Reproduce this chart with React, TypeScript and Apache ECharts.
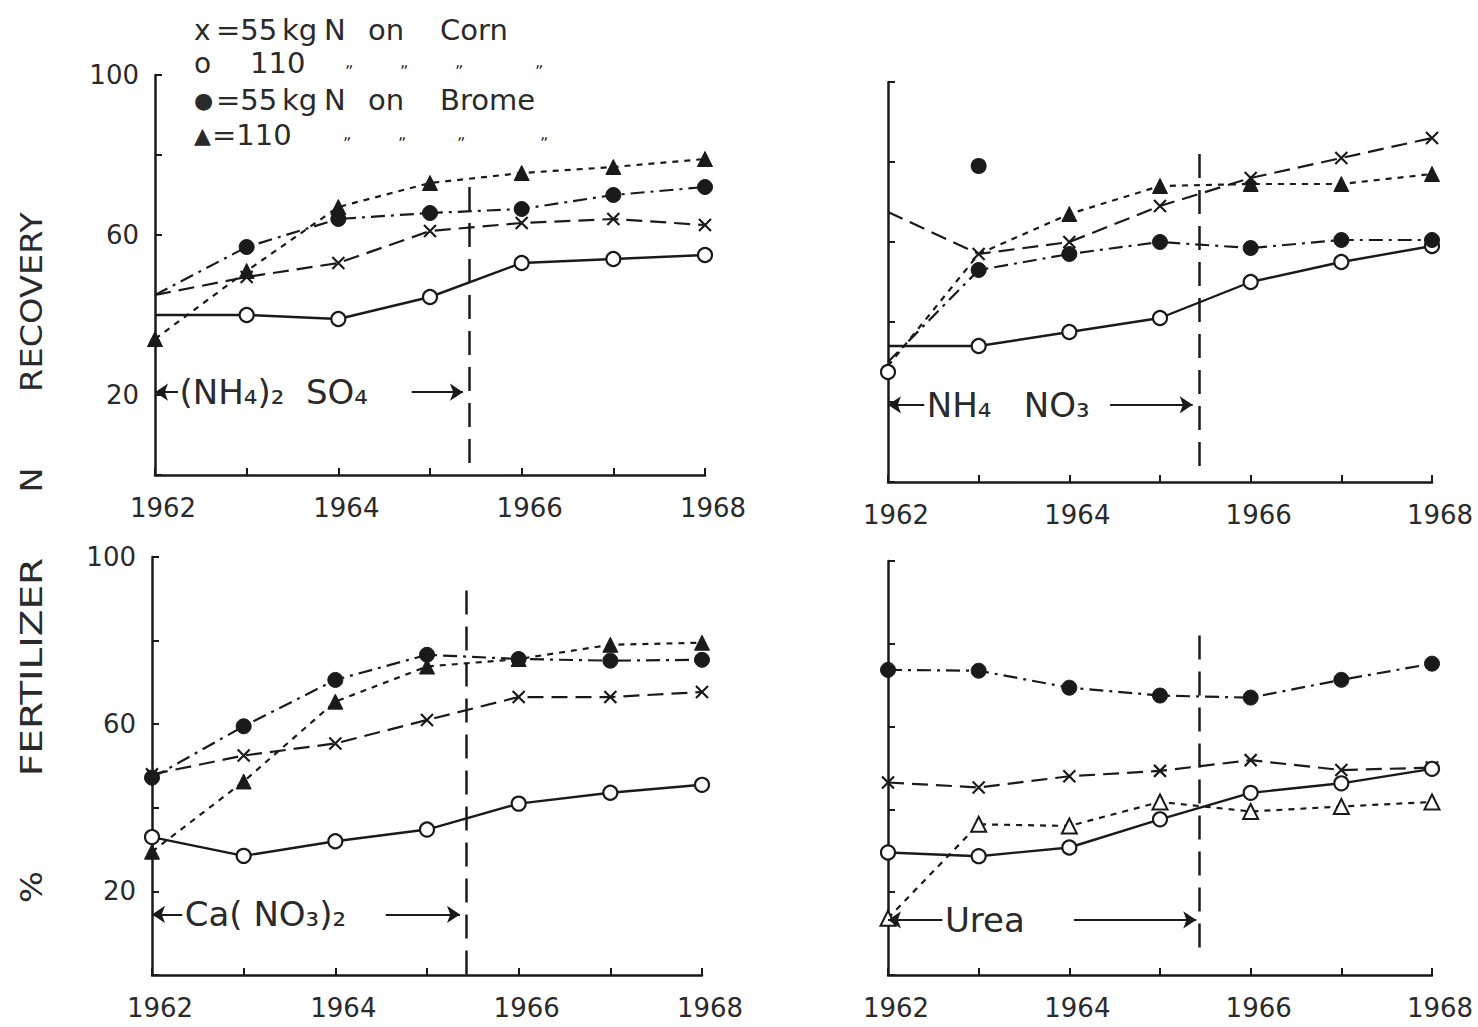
import React, { useEffect, useRef } from "react";
import * as echarts from "echarts";

const years = [1962, 1963, 1964, 1965, 1966, 1967, 1968];
const xLabelYears = [1962, 1964, 1966, 1968];
const yLabelValues = [20, 60, 100];

// Panel 1: (NH4)2 SO4
const sulfateCorn55 = [45, 49.5, 53, 61, 63, 64, 62.5];
const sulfateCorn110 = [40, 40, 39, 44.5, 53, 54, 55];
const sulfateBrome55 = [45, 57, 64, 65.5, 66.5, 70, 72];
const sulfateBrome110 = [34, 51, 67, 73, 75.5, 77, 79];

// Panel 2: NH4 NO3
const nitrateCorn55 = [67.5, 57, 60, 69, 76, 81, 86];
const nitrateCorn110 = [34, 34, 37.5, 41, 50, 55, 59];
const nitrateBrome55 = [30, 53, 57, 60, 58.5, 60.5, 60.5];
const nitrateBrome110 = [29, 57, 67, 74, 74.5, 74.5, 77];
const nitrateLoneBrome55 = [[1963, 79]];
const nitrateLoneCorn110 = [[1962, 27.5]];

// Panel 3: Ca(NO3)2
const calciumCorn55 = [48, 52.5, 55.4, 61, 66.5, 66.5, 67.7];
const calciumCorn110 = [33, 28.5, 32, 34.8, 41, 43.6, 45.5];
const calciumBrome55 = [47.2, 59.5, 70.6, 76.6, 75.6, 75.2, 75.4];
const calciumBrome110 = [29.5, 46.3, 65.4, 73.8, 75.6, 79, 79.5];

// Panel 4: Urea
const ureaCorn55 = [46.5, 45.3, 48, 49.3, 51.9, 49.5, 50.1];
const ureaCorn110 = [29.6, 28.7, 30.8, 37.6, 44, 46.3, 49.8];
const ureaBrome55 = [73.7, 73.5, 69.4, 67.5, 67, 71.3, 75.2];
const ureaBrome110 = [13.7, 36.4, 36, 41.8, 39.5, 40.7, 41.8];

const switchYear = 1965.43;

const fertilizerNames = ["(NH₄)₂  SO₄", "NH₄   NO₃", "Ca( NO₃)₂", "Urea"];

const INK = "#1a1a1a";
const TEXT = "#2a2a2a";
const FONT = "DejaVu Sans";

type Panel = {
  corn55: number[];
  corn110: number[];
  brome55: number[];
  brome110: number[];
  hidden: { corn55: number[]; corn110: number[]; brome55: number[]; brome110: number[] };
  openTriangles: boolean;
  switchSpan: [number, number];
  note: { y: number; leftFrom: number; textAt: number; rightFrom: number; rightTo: number };
  grid: { left: number; top: number; width: number; height: number };
  showYLabels: boolean;
};

const panels: Panel[] = [
  {
    corn55: sulfateCorn55,
    corn110: sulfateCorn110,
    brome55: sulfateBrome55,
    brome110: sulfateBrome110,
    hidden: { corn55: [0], corn110: [0], brome55: [0], brome110: [] },
    openTriangles: false,
    switchSpan: [72, 0],
    note: { y: 20.7, leftFrom: 1962.25, textAt: 1962.24, rightFrom: 1964.8, rightTo: 1965.36 },
    grid: { left: 155, top: 75, width: 550, height: 400 },
    showYLabels: true,
  },
  {
    corn55: nitrateCorn55,
    corn110: nitrateCorn110,
    brome55: nitrateBrome55,
    brome110: nitrateBrome110,
    hidden: { corn55: [0], corn110: [0], brome55: [0], brome110: [0, 1] },
    openTriangles: false,
    switchSpan: [82, 2],
    note: { y: 19.3, leftFrom: 1962.4, textAt: 1962.4, rightFrom: 1964.45, rightTo: 1965.36 },
    grid: { left: 888, top: 82, width: 544, height: 400 },
    showYLabels: false,
  },
  {
    corn55: calciumCorn55,
    corn110: calciumCorn110,
    brome55: calciumBrome55,
    brome110: calciumBrome110,
    hidden: { corn55: [], corn110: [], brome55: [], brome110: [] },
    openTriangles: false,
    switchSpan: [92, 0],
    note: { y: 14.5, leftFrom: 1962.33, textAt: 1962.33, rightFrom: 1964.55, rightTo: 1965.36 },
    grid: { left: 152, top: 557, width: 550, height: 418 },
    showYLabels: true,
  },
  {
    corn55: ureaCorn55,
    corn110: ureaCorn110,
    brome55: ureaBrome55,
    brome110: ureaBrome110,
    hidden: { corn55: [], corn110: [], brome55: [], brome110: [] },
    openTriangles: true,
    switchSpan: [82, 4],
    note: { y: 13.3, leftFrom: 1962.6, textAt: 1962.6, rightFrom: 1964.05, rightTo: 1965.4 },
    grid: { left: 888, top: 561, width: 544, height: 414 },
    showYLabels: false,
  },
];

const CROSS = "path://M0,0L10,10M10,0L0,10";

function toData(values: number[], hidden: number[]) {
  return values.map((v, i) =>
    hidden.includes(i) ? { value: [years[i], v], symbol: "none" } : [years[i], v]
  );
}

function buildSeries(p: Panel, i: number): any[] {
  const base = { type: "line", xAxisIndex: i, yAxisIndex: i, showAllSymbol: true, z: 3 };
  return [
    {
      ...base,
      name: "55 kg N on Corn",
      data: toData(p.corn55, p.hidden.corn55),
      symbol: CROSS,
      symbolSize: 12,
      itemStyle: { color: "rgba(0,0,0,0)", borderColor: INK, borderWidth: 2.2 },
      lineStyle: { color: INK, width: 2.2, type: [16, 8] },
    },
    {
      ...base,
      name: "110 kg N on Corn",
      data: toData(p.corn110, p.hidden.corn110),
      symbol: "circle",
      symbolSize: 14,
      itemStyle: { color: "#fff", borderColor: INK, borderWidth: 2.2 },
      lineStyle: { color: INK, width: 2.4, type: "solid" },
      markLine: {
        silent: true,
        symbol: ["none", "none"],
        symbolSize: 13,
        label: { show: false },
        lineStyle: { color: INK, width: 2, type: "solid" },
        data: [
          [
            { coord: [switchYear, p.switchSpan[0]], lineStyle: { type: [24, 12], width: 2.5 } },
            { coord: [switchYear, p.switchSpan[1]] },
          ],
          [
            { coord: [p.note.leftFrom, p.note.y], symbol: "none" },
            { coord: [1962, p.note.y], symbol: "arrow" },
          ],
          [
            { coord: [p.note.rightFrom, p.note.y], symbol: "none" },
            { coord: [p.note.rightTo, p.note.y], symbol: "arrow" },
          ],
        ],
      },
      markPoint: {
        silent: true,
        symbol: "circle",
        symbolSize: 1,
        itemStyle: { color: "rgba(0,0,0,0)" },
        label: {
          show: true,
          position: "right",
          distance: 2,
          color: TEXT,
          fontFamily: FONT,
          fontSize: 34,
          formatter: fertilizerNames[i],
          backgroundColor: "#fff",
        },
        data: [{ coord: [p.note.textAt, p.note.y], value: fertilizerNames[i] }],
      },
    },
    {
      ...base,
      name: "55 kg N on Brome",
      data: toData(p.brome55, p.hidden.brome55),
      symbol: "circle",
      symbolSize: 15,
      itemStyle: { color: INK, borderColor: INK, borderWidth: 1 },
      lineStyle: { color: INK, width: 2.2, type: [14, 6, 3, 6] },
    },
    {
      ...base,
      name: "110 kg N on Brome",
      data: toData(p.brome110, p.hidden.brome110),
      symbol: "triangle",
      symbolSize: 15,
      itemStyle: p.openTriangles
        ? { color: "#fff", borderColor: INK, borderWidth: 2 }
        : { color: INK, borderColor: INK, borderWidth: 1 },
      lineStyle: { color: INK, width: 2.2, type: [6, 6] },
    },
  ];
}

const allSeries: any[] = [];
panels.forEach((p, i) => allSeries.push(...buildSeries(p, i)));
allSeries.push({
  type: "scatter",
  name: "55 kg N on Brome (single)",
  xAxisIndex: 1,
  yAxisIndex: 1,
  data: nitrateLoneBrome55,
  symbol: "circle",
  symbolSize: 16,
  itemStyle: { color: INK, opacity: 1 },
  z: 4,
});
allSeries.push({
  type: "scatter",
  name: "110 kg N on Corn (single)",
  xAxisIndex: 1,
  yAxisIndex: 1,
  data: nitrateLoneCorn110,
  symbol: "circle",
  symbolSize: 14,
  itemStyle: { color: "#fff", borderColor: INK, borderWidth: 2.2, opacity: 1 },
  z: 4,
});

const legendRows = [
  { marker: "x", words: ["=55", "kg", "N", "on", "Corn"] },
  { marker: "o", words: ["110", "„", "„", "„", "„"] },
  { marker: "●", words: ["=55", "kg", "N", "on", "Brome"] },
  { marker: "▲", words: ["=110", "„", "„", "„", "„"] },
];
const legendRowY = [30, 63, 100, 135];
const legendWordX = [
  [216, 282, 324, 368, 440],
  [250, 345, 400, 455, 535],
  [216, 282, 324, 368, 440],
  [212, 343, 398, 457, 540],
];

const yTitleWords = ["RECOVERY", "N", "FERTILIZER", "%"];
const yTitleCenters = [302, 480, 667, 887];

function buildGraphics(): any[] {
  const g: any[] = [];
  legendRows.forEach((row, r) => {
    g.push({
      type: "text",
      x: 194,
      y: legendRowY[r],
      style: {
        text: row.marker,
        fontFamily: FONT,
        fontSize: row.marker === "x" || row.marker === "o" ? 28 : 22,
        fill: TEXT,
        verticalAlign: "middle",
      },
    });
    row.words.forEach((w, k) => {
      const ditto = w === "„";
      g.push({
        type: "text",
        x: legendWordX[r][k],
        y: ditto ? legendRowY[r] - 2 : legendRowY[r],
        style: {
          text: w,
          fontFamily: FONT,
          fontSize: ditto ? 16 : 29,
          fill: TEXT,
          verticalAlign: "middle",
        },
      });
    });
  });
  yTitleWords.forEach((w, k) => {
    g.push({
      type: "text",
      x: 32,
      y: yTitleCenters[k],
      rotation: Math.PI / 2,
      scaleX: w === "FERTILIZER" ? 1.3 : 1.12,
      style: {
        text: w,
        fontFamily: FONT,
        fontSize: 30,
        fill: TEXT,
        align: "center",
        verticalAlign: "middle",
      },
    });
  });
  return g;
}

function buildOption(): any {
  return {
    animation: false,
    backgroundColor: "#fff",
    grid: panels.map((p) => ({ ...p.grid, containLabel: false })),
    xAxis: panels.map((p, i) => ({
      type: "value",
      gridIndex: i,
      min: 1962,
      max: 1968,
      interval: 1,
      splitLine: { show: false },
      axisLine: { show: true, onZero: false, lineStyle: { color: INK, width: 2.5 } },
      axisTick: { show: true, inside: true, length: 7, lineStyle: { color: INK, width: 2 } },
      axisLabel: {
        formatter: (v: number) => (xLabelYears.includes(v) ? String(v) : ""),
        fontFamily: FONT,
        fontSize: 26,
        color: TEXT,
        margin: 20,
        padding: [0, 0, 0, 16],
        showMinLabel: true,
        showMaxLabel: true,
      },
    })),
    yAxis: panels.map((p, i) => ({
      type: "value",
      gridIndex: i,
      min: 0,
      max: 100,
      interval: 20,
      splitLine: { show: false },
      axisLine: { show: true, onZero: false, lineStyle: { color: INK, width: 2.5 } },
      axisTick: { show: true, inside: true, length: 7, lineStyle: { color: INK, width: 2 } },
      axisLabel: {
        show: p.showYLabels,
        formatter: (v: number) => (yLabelValues.includes(v) ? String(v) : ""),
        fontFamily: FONT,
        fontSize: 26,
        color: TEXT,
        margin: 16,
      },
    })),
    series: allSeries,
    graphic: buildGraphics(),
  };
}

export default function App() {
  const ref = useRef<HTMLDivElement>(null);
  useEffect(() => {
    if (!ref.current) return;
    const chart = echarts.init(ref.current, null, { renderer: "svg" });
    chart.setOption(buildOption());
    return () => chart.dispose();
  }, []);
  return (
    <div
      ref={ref}
      style={{ position: "fixed", left: 0, top: 0, width: 1478, height: 1027, background: "#fff" }}
    />
  );
}
